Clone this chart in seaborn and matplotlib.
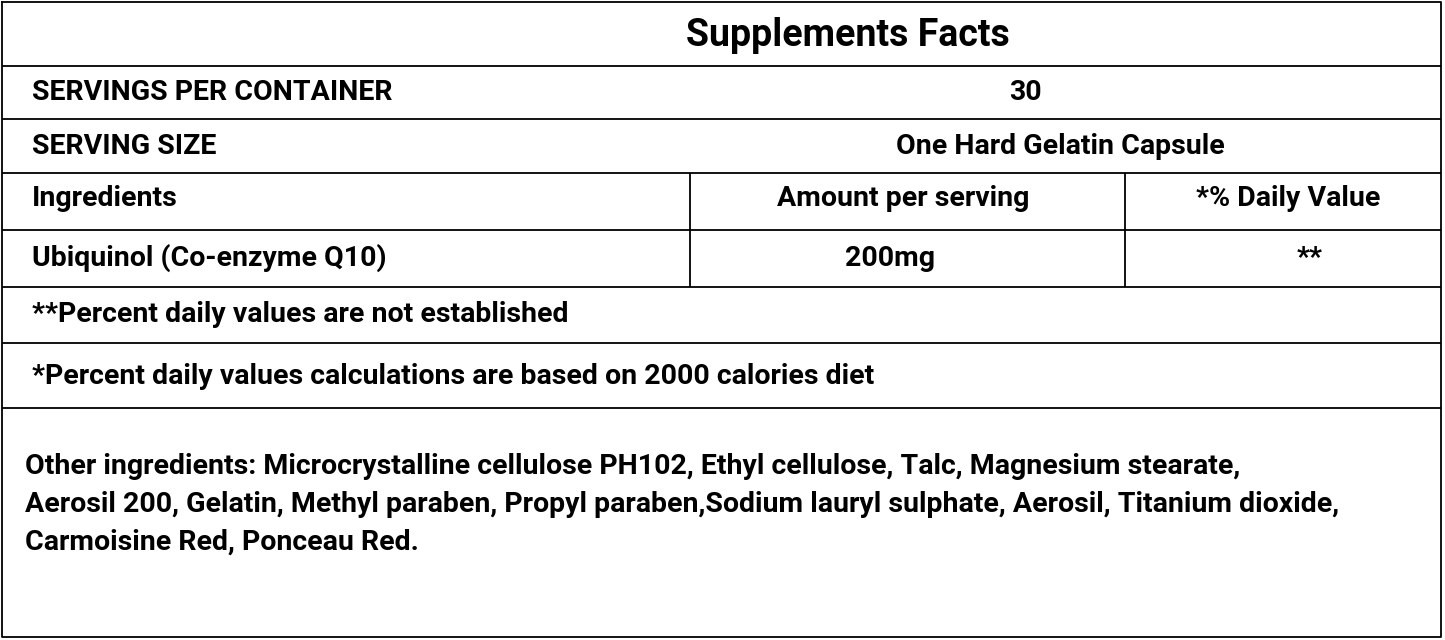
import matplotlib
matplotlib.use("Agg")
import matplotlib.pyplot as plt
import seaborn as sns

title = "Supplements Facts"
row_labels = ["SERVINGS PER CONTAINER", "SERVING SIZE"]
row_values = ["30", "One Hard Gelatin Capsule"]
header = ["Ingredients", "Amount per serving", "*% Daily Value"]
ingredient = ["Ubiquinol (Co-enzyme Q10)", "200mg", "**"]
notes = ["**Percent daily values are not established",
         "*Percent daily values calculations are based on 2000 calories diet"]
other_lines = ["Other ingredients: Microcrystalline cellulose PH102, Ethyl cellulose, Talc, Magnesium stearate,",
               "Aerosil 200, Gelatin, Methyl paraben, Propyl paraben,Sodium lauryl sulphate, Aerosil, Titanium dioxide,",
               "Carmoisine Red, Ponceau Red."]

sns.set_theme(style="white")
plt.rcParams['font.family'] = ['Roboto', 'DejaVu Sans']
fig = plt.figure(figsize=(14.45, 6.4), dpi=100)
ax = fig.add_axes([0, 0, 1, 1])
ax.set_xlim(0, 1445); ax.set_ylim(640, 0); ax.axis("off")

lw = 1.3
ax.plot([2, 1441, 1441, 2, 2], [2, 2, 637, 637, 2], color="black", lw=lw)
for y in [66, 119, 173, 230, 287, 343, 408]:
    ax.hlines(y, 2, 1441, color="black", lw=lw)
for x in [690, 1125]:
    ax.vlines(x, 173, 287, color="black", lw=lw)

fs = 20.5
kw = dict(fontweight="bold", color="black", va="center", fontsize=fs)
ax.text(848, 35, title, ha="center", **{**kw, "fontsize": 27})
ax.text(32, 93, row_labels[0], ha="left", **kw)
ax.text(32, 146, row_labels[1], ha="left", **kw)
ax.text(1025, 93, row_values[0], ha="center", **kw)
ax.text(1060, 146, row_values[1], ha="center", **kw)
for y, row, xs in zip([199, 258], [header, ingredient], [(903, 1288), (890, 1310)]):
    ax.text(32, y, row[0], ha="left", **kw)
    ax.text(xs[0], y, row[1], ha="center", **kw)
    ax.text(xs[1], y, row[2], ha="center", **kw)
for y, n in zip([315, 377], notes):
    ax.text(32, y, n, ha="left", **kw)
for y, t in zip([466, 504, 542], other_lines):
    ax.text(25, y, t, ha="left", **kw)
fig.savefig("out.png", dpi=100)
